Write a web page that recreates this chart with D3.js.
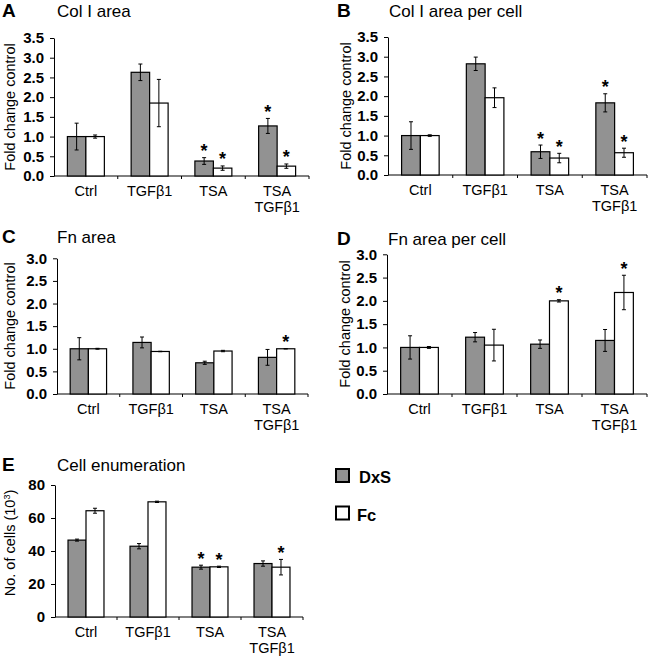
<!DOCTYPE html>
<html><head><meta charset="utf-8">
<script src="https://cdn.jsdelivr.net/npm/d3@7"></script>
<style>
html,body{margin:0;padding:0;background:#fff;}
svg text{font-family:"Liberation Sans",Arial,Helvetica,sans-serif;fill:#000;}
</style></head>
<body>
<svg id="chart" width="650" height="659"></svg>
<script>
// ---------- data ----------
const categories = ["Ctrl", "TGFβ1", "TSA", "TSA TGFβ1"];
const categoryLines = [["Ctrl"], ["TGFβ1"], ["TSA"], ["TSA", "TGFβ1"]];
const series = ["DxS", "Fc"];

// A: Col I area
const colAreaDxS = [1.00, 2.63, 0.38, 1.27];
const colAreaDxSErr = [0.34, 0.21, 0.085, 0.19];
const colAreaFc = [1.00, 1.85, 0.20, 0.25];
const colAreaFcErr = [0.04, 0.60, 0.055, 0.055];
const colAreaDxSSig = [0, 0, 1, 1];
const colAreaFcSig = [0, 0, 1, 1];

// B: Col I area per cell
const colCellDxS = [1.00, 2.82, 0.59, 1.83];
const colCellDxSErr = [0.35, 0.17, 0.17, 0.23];
const colCellFc = [1.00, 1.96, 0.43, 0.565];
const colCellFcErr = [0.02, 0.25, 0.12, 0.115];
const colCellDxSSig = [0, 0, 1, 1];
const colCellFcSig = [0, 0, 1, 1];

// C: Fn area
const fnAreaDxS = [1.00, 1.14, 0.69, 0.81];
const fnAreaDxSErr = [0.245, 0.12, 0.035, 0.175];
const fnAreaFc = [1.00, 0.94, 0.95, 1.00];
const fnAreaFcErr = [0.01, 0.005, 0.015, 0.005];
const fnAreaDxSSig = [0, 0, 0, 0];
const fnAreaFcSig = [0, 0, 0, 1];

// D: Fn area per cell
const fnCellDxS = [1.00, 1.22, 1.07, 1.15];
const fnCellDxSErr = [0.25, 0.10, 0.09, 0.235];
const fnCellFc = [1.00, 1.05, 2.00, 2.18];
const fnCellFcErr = [0.02, 0.34, 0.025, 0.37];
const fnCellDxSSig = [0, 0, 0, 0];
const fnCellFcSig = [0, 0, 1, 1];

// E: Cell enumeration (10^3)
const cellsDxS = [46.6, 42.9, 30.2, 32.4];
const cellsDxSErr = [0.6, 1.6, 1.2, 1.6];
const cellsFc = [64.4, 69.8, 30.4, 30.2];
const cellsFcErr = [1.5, 0.4, 0.4, 4.7];
const cellsDxSSig = [0, 0, 1, 0];
const cellsFcSig = [0, 0, 1, 1];

const ticksFold35 = [0, 0.5, 1.0, 1.5, 2.0, 2.5, 3.0, 3.5];
const ticksFold30 = [0, 0.5, 1.0, 1.5, 2.0, 2.5, 3.0];
const ticksCells = [0, 20, 40, 60, 80];

// ---------- drawing ----------
const svg = d3.select("#chart");
const FONT = '"Liberation Sans",Arial,Helvetica,sans-serif';
const fills = {DxS: "#929292", Fc: "#ffffff"};

function panel(cfg) {
  const g = svg.append("g");
  const x0 = d3.scaleBand().domain(categories).range([cfg.left, cfg.right]);
  const bw = x0.bandwidth();
  const x1 = d3.scaleBand().domain(series).range([bw * 0.21, bw * 0.79]);
  const y = d3.scaleLinear().domain([0, cfg.max]).range([cfg.bottom, cfg.top]);

  // letter + title
  g.append("text").attr("x", cfg.letterX).attr("y", cfg.titleY)
    .style("font-size", "19px").style("font-weight", "bold").text(cfg.letter);
  g.append("text").attr("x", cfg.titleX).attr("y", cfg.titleY)
    .style("font-size", "17px").text(cfg.title);

  // y axis
  const yAxis = d3.axisLeft(y).tickValues(cfg.ticks).tickSize(4).tickSizeOuter(0)
    .tickPadding(6).tickFormat(cfg.fmt);
  const ya = g.append("g").attr("transform", `translate(${cfg.left},0)`).call(yAxis);
  ya.selectAll("text").style("font-size", "15px").style("font-weight", "bold")
    .style("font-family", FONT).attr("fill", "#000");
  ya.selectAll("line,path").attr("stroke", "#000").attr("stroke-width", 1);

  // x axis: baseline with boundary ticks
  const xa = g.append("g");
  xa.append("line").attr("x1", cfg.left).attr("x2", cfg.right)
    .attr("y1", cfg.bottom).attr("y2", cfg.bottom).attr("stroke", "#000");
  const bounds = categories.map(c => x0(c)).concat([x0(categories[3]) + bw]);
  xa.selectAll("line.bt").data(bounds.slice(1)).join("line").attr("class", "bt")
    .attr("x1", d => d).attr("x2", d => d)
    .attr("y1", cfg.bottom).attr("y2", cfg.bottom + 3).attr("stroke", "#000");

  // category labels
  categories.forEach((c, i) => {
    const t = g.append("text").attr("text-anchor", "middle")
      .attr("x", x0(c) + bw / 2).attr("y", cfg.bottom + 20)
      .style("font-size", "14.5px");
    categoryLines[i].forEach((ln, j) => {
      t.append("tspan").attr("x", x0(c) + bw / 2).attr("dy", j === 0 ? 0 : 16).text(ln);
    });
  });

  // y label
  const yl = g.append("text").attr("text-anchor", "middle")
    .attr("transform", `translate(${cfg.ylabX},${cfg.ylabY}) rotate(-90)`)
    .style("font-size", "14.5px");
  if (cfg.ylabSup) {
    yl.append("tspan").text(cfg.ylab);
    yl.append("tspan").attr("baseline-shift", "super").style("font-size", "9px").text(cfg.ylabSup);
    yl.append("tspan").text(")");
  } else {
    yl.text(cfg.ylab);
  }

  // bars
  const rows = [];
  series.forEach(s => {
    const d = cfg.data[s];
    categories.forEach((c, i) => rows.push({s, c, v: d.v[i], e: d.e[i], sig: d.sig[i]}));
  });
  const bx = r => x0(r.c) + x1(r.s);
  g.selectAll("rect.bar").data(rows).join("rect").attr("class", "bar")
    .attr("x", bx).attr("width", x1.bandwidth())
    .attr("y", r => y(r.v)).attr("height", r => cfg.bottom - y(r.v))
    .attr("fill", r => fills[r.s]).attr("stroke", "#000").attr("stroke-width", 1.2);

  // error bars
  const cap = 2;
  rows.forEach(r => {
    const cx = bx(r) + x1.bandwidth() / 2;
    const y1 = y(r.v + r.e), y2 = y(r.v - r.e);
    g.append("line").attr("x1", cx).attr("x2", cx).attr("y1", y1).attr("y2", y2)
      .attr("stroke", "#000").attr("stroke-width", 1);
    [y1, y2].forEach(yy => g.append("line").attr("x1", cx - cap).attr("x2", cx + cap)
      .attr("y1", yy).attr("y2", yy).attr("stroke", "#000").attr("stroke-width", 1));
    if (r.sig) {
      g.append("text").attr("text-anchor", "middle").attr("x", cx).attr("y", y1 - 0.5)
        .style("font-size", "18px").style("font-weight", "bold").text("*");
    }
  });
}

const f1 = d3.format(".1f");
const f0 = d3.format("d");

panel({letter: "A", title: "Col I area", letterX: 2, titleX: 57, titleY: 16.5,
  left: 54, right: 309, top: 38, bottom: 176, max: 3.5, ticks: ticksFold35, fmt: f1,
  ylab: "Fold change control", ylabX: 14.5, ylabY: 107,
  data: {DxS: {v: colAreaDxS, e: colAreaDxSErr, sig: colAreaDxSSig},
         Fc: {v: colAreaFc, e: colAreaFcErr, sig: colAreaFcSig}}});

panel({letter: "B", title: "Col I area per cell", letterX: 337, titleX: 389, titleY: 16.5,
  left: 388, right: 647, top: 37, bottom: 175, max: 3.5, ticks: ticksFold35, fmt: f1,
  ylab: "Fold change control", ylabX: 351, ylabY: 106,
  data: {DxS: {v: colCellDxS, e: colCellDxSErr, sig: colCellDxSSig},
         Fc: {v: colCellFc, e: colCellFcErr, sig: colCellFcSig}}});

panel({letter: "C", title: "Fn area", letterX: 2, titleX: 57, titleY: 243,
  left: 57, right: 308, top: 258.3, bottom: 394, max: 3.0, ticks: ticksFold30, fmt: f1,
  ylab: "Fold change control", ylabX: 14.5, ylabY: 326,
  data: {DxS: {v: fnAreaDxS, e: fnAreaDxSErr, sig: fnAreaDxSSig},
         Fc: {v: fnAreaFc, e: fnAreaFcErr, sig: fnAreaFcSig}}});

panel({letter: "D", title: "Fn area per cell", letterX: 337, titleX: 388, titleY: 244.5,
  left: 387, right: 647, top: 254.3, bottom: 394, max: 3.0, ticks: ticksFold30, fmt: f1,
  ylab: "Fold change control", ylabX: 350, ylabY: 324,
  data: {DxS: {v: fnCellDxS, e: fnCellDxSErr, sig: fnCellDxSSig},
         Fc: {v: fnCellFc, e: fnCellFcErr, sig: fnCellFcSig}}});

panel({letter: "E", title: "Cell enumeration", letterX: 2, titleX: 57, titleY: 471,
  left: 55, right: 303, top: 485, bottom: 617, max: 80, ticks: ticksCells, fmt: f0,
  ylab: "No. of cells (10", ylabSup: "3", ylabX: 14.5, ylabY: 543,
  data: {DxS: {v: cellsDxS, e: cellsDxSErr, sig: cellsDxSSig},
         Fc: {v: cellsFc, e: cellsFcErr, sig: cellsFcSig}}});

// legend
const leg = svg.append("g");
const legY = {DxS: 469, Fc: 506.5};
series.forEach(s => {
  leg.append("rect").attr("x", 336).attr("y", legY[s]).attr("width", 13).attr("height", 13)
    .attr("fill", fills[s]).attr("stroke", "#000").attr("stroke-width", 2);
  leg.append("text").attr("x", s === "DxS" ? 359 : 357).attr("y", legY[s] + 14)
    .style("font-size", "16.5px").style("font-weight", "bold").text(s);
});
</script>
</body></html>
